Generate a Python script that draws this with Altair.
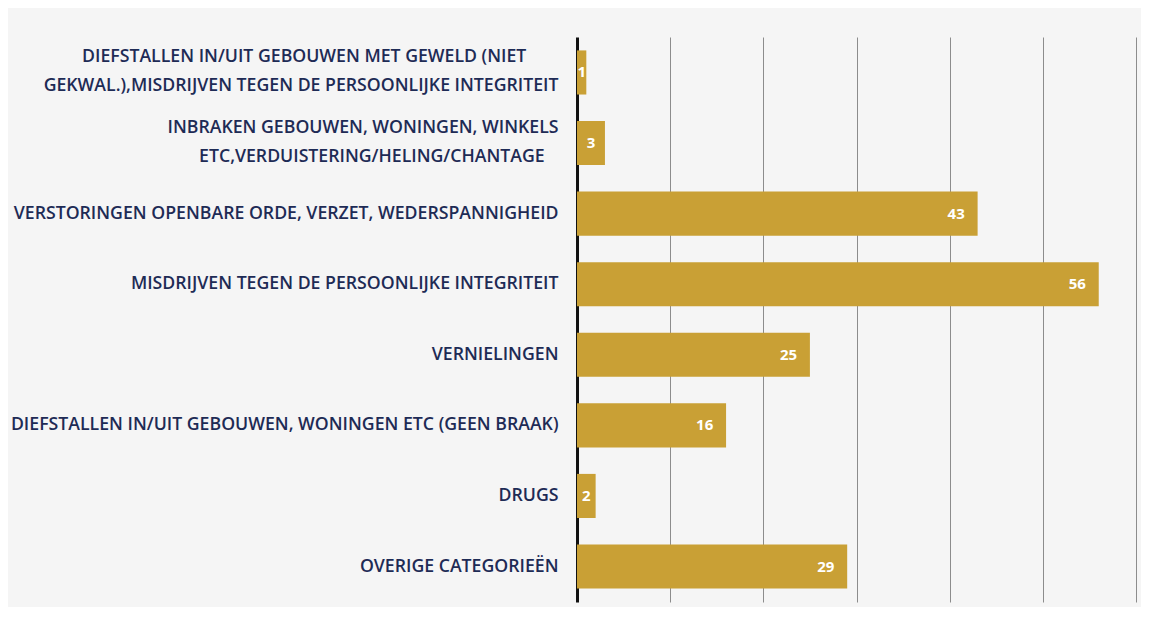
import altair as alt
import pandas as pd

PAD = "\u00a0" * 7 + "\u200c"
PAD2 = "\u00a0" * 3 + "\u200c"
categories = [
    "DIEFSTALLEN IN/UIT GEBOUWEN MET GEWELD (NIET" + PAD + "|GEKWAL.),MISDRIJVEN TEGEN DE PERSOONLIJKE INTEGRITEIT",
    "INBRAKEN GEBOUWEN, WONINGEN, WINKELS|ETC,VERDUISTERING/HELING/CHANTAGE" + PAD2,
    "VERSTORINGEN OPENBARE ORDE, VERZET, WEDERSPANNIGHEID",
    "MISDRIJVEN TEGEN DE PERSOONLIJKE INTEGRITEIT",
    "VERNIELINGEN",
    "DIEFSTALLEN IN/UIT GEBOUWEN, WONINGEN ETC (GEEN BRAAK)",
    "DRUGS",
    "OVERIGE CATEGORIEËN",
]
values = [1, 3, 43, 56, 25, 16, 2, 29]

df = pd.DataFrame({"categorie": categories, "aantal": values})

BAR = "#c9a035"
NAVY = "#1e2b55"

y_enc = alt.Y(
    "categorie:N",
    sort=None,
    title=None,
    scale=alt.Scale(paddingInner=0.375, paddingOuter=0.19),
    axis=alt.Axis(
        labelExpr="split(datum.label, '|')",
        labelLimit=0,
        labelFont="Open Sans",
        labelFontSize=17.7,
        labelFontWeight=600,
        labelColor=NAVY,
        labelLineHeight=29,
        labelOffset={"condition": {"test": "indexof(datum.label, '|') >= 0", "value": -15}, "value": 0},
        labelPadding=19,
        ticks=False,
        domain=True,
        domainColor="#111111",
        domainWidth=3,
        grid=False,
        minExtent=569,
        maxExtent=569,
    ),
)

x_enc = alt.X(
    "aantal:Q",
    title=None,
    scale=alt.Scale(domain=[0, 60], nice=False),
    axis=alt.Axis(
        values=[10, 20, 30, 40, 50, 60],
        labels=False,
        ticks=False,
        domain=False,
        grid=True,
        gridColor="#8c8c8c",
        gridWidth=1,
    ),
)

bars = alt.Chart(df).mark_bar(color=BAR).encode(y=y_enc, x=x_enc)

labels = (
    alt.Chart(df)
    .transform_calculate(
        pos="datum.aantal >= 5 ? datum.aantal - 2.3 : datum.aantal / 2"
    )
    .mark_text(color="white", font="Open Sans", fontWeight="bold", fontSize=15, align="center", baseline="middle")
    .encode(
        y=alt.Y("categorie:N", sort=None),
        x=alt.X("pos:Q"),
        text=alt.Text("aantal:Q"),
    )
)

chart = (
    alt.layer(bars, labels)
    .properties(
        width=559,
        height=565,
        padding={"left": 0, "top": 29, "right": 5, "bottom": 5},
        background="#f5f5f5",
    )
    .configure_view(stroke=None)
)

chart.save("out.html", embed_options={"renderer": "svg", "actions": False})
